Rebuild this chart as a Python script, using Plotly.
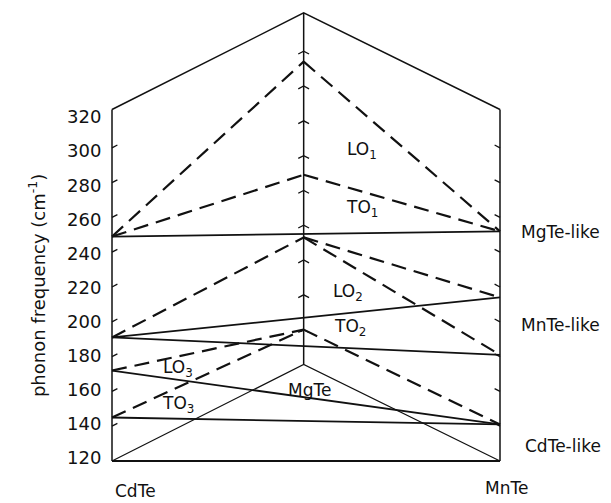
import plotly.graph_objects as go

# ---------------- data (phonon frequencies, cm^-1) ----------------
compounds = ["CdTe", "MgTe", "MnTe"]

# Cd1-xMnxTe face (solid lines): value at CdTe end, value at MnTe end
front_modes = ["MgTe-like", "MnTe-like LO", "MnTe-like TO", "CdTe-like LO", "CdTe-like TO"]
front_cdte = [249, 191, 191, 172, 145]
front_mnte = [252, 214, 181, 141, 141]

# Cd1-xMgxTe face (dashed): CdTe end -> MgTe end
left_modes = ["LO1", "TO1", "LO2", "LO3", "TO3"]
left_cdte = [249, 249, 191, 172, 145]
left_mgte = [294, 229, 193, 140, 140]

# Mg1-xMnxTe face (dashed): MgTe end -> MnTe end
right_modes = ["LO1", "TO1", "LO2", "TO2", "TO3"]
right_mgte = [294, 229, 193, 193, 140]
right_mnte = [252, 252, 214, 181, 141]

y_ticks = [120, 140, 160, 180, 200, 220, 240, 260, 280, 300, 320]
edge_ticks = [140, 160, 180, 200, 220, 240, 260, 280, 300]

# ---------------- prism geometry (layout constants) ----------------
X_CD, X_MG, X_MN = 0.0, 0.494, 1.0   # horizontal placement of the three binaries
DEPTH = 55.5                         # perspective lift of the MgTe (back) edge, in cm^-1
F_MIN, F_MAX = 120, 322

PX_X = 388.0   # px per unit composition
PX_Y = 1.74    # px per cm^-1
OFF = 8        # page body margin of the html page

BLACK = "#111111"
FONT = "DejaVu Sans"

W, H = 611, 503
ML = 112 - OFF - 4
PLOT_W = 388 + 8
MR = W - ML - PLOT_W
X_RANGE = [X_CD - 4 / PX_X, X_MN + 4 / PX_X]

fig = go.Figure()


def seg(xs, ys, width=1.5, dash="solid"):
    fig.add_trace(go.Scatter(x=xs, y=ys, mode="lines",
                             line=dict(color=BLACK, width=width, dash=dash),
                             hoverinfo="skip", showlegend=False))


def xpaper(x):
    return (x - X_RANGE[0]) / (X_RANGE[1] - X_RANGE[0])


# prism outline
seg([X_CD, X_CD], [F_MIN, F_MAX])
seg([X_MN, X_MN], [F_MIN, F_MAX])
seg([X_MG, X_MG], [F_MIN + DEPTH, F_MAX + DEPTH])
seg([X_CD, X_MG, X_MN], [F_MAX, F_MAX + DEPTH, F_MAX])
seg([X_CD, X_MN], [F_MIN, F_MIN], width=1.8)
seg([X_CD, X_MG, X_MN], [F_MIN, F_MIN + DEPTH, F_MIN], width=1.2)

# small tick marks on the three edges
tx, ty = [], []
dx = 5.4 / PX_X
dv = 2.8 / PX_Y
for v in edge_ticks:
    tx += [X_CD, X_CD + dx, None]
    ty += [v, v + dv, None]
    tx += [X_MN, X_MN - dx, None]
    ty += [v, v + dv, None]
    vm = v + DEPTH
    tx += [X_MG - dx, X_MG, X_MG + dx, None]
    ty += [vm - dv, vm, vm - dv, None]
fig.add_trace(go.Scatter(x=tx, y=ty, mode="lines",
                         line=dict(color=BLACK, width=1.3),
                         hoverinfo="skip", showlegend=False))

# solid lines: Cd1-xMnxTe
for a, b in zip(front_cdte, front_mnte):
    seg([X_CD, X_MN], [a, b], width=1.8)

# dashed lines: Cd1-xMgxTe and Mg1-xMnxTe
DASH = "15px,8px"
for a, b in zip(left_cdte, left_mgte):
    seg([X_CD, X_MG], [a, b + DEPTH], width=2.2, dash=DASH)
for a, b in zip(right_mgte, right_mnte):
    seg([X_MG, X_MN], [a + DEPTH, b], width=2.2, dash=DASH)

# dummy trace for the tick-label axis
fig.add_trace(go.Scatter(x=[None], y=[None], yaxis="y2", showlegend=False,
                         hoverinfo="skip"))

# ---------------- text labels ----------------
labels = [
    ("LO<sub>1</sub>", 0.644, 298.7, "center"),
    ("TO<sub>1</sub>", 0.644, 265.4, "center"),
    ("LO<sub>2</sub>", 0.608, 217.1, "center"),
    ("TO<sub>2</sub>", 0.613, 197.0, "center"),
    ("LO<sub>3</sub>", 0.170, 173.4, "center"),
    ("TO<sub>3</sub>", 0.170, 152.2, "center"),
    ("MgTe", 0.508, 160.8, "center"),
    ("MgTe-like", 1.157, 251.6, "center"),
    ("MnTe-like", 1.157, 198.2, "center"),
    ("CdTe-like", 1.162, 128.6, "center"),
    ("CdTe", 0.003, 103.0, "left"),
    ("MnTe", 1.018, 104.5, "center"),
]
for txt, x, y, anc in labels:
    fig.add_annotation(x=xpaper(x), y=y, xref="paper", yref="y", text=txt,
                       showarrow=False, xanchor=anc, yanchor="middle",
                       font=dict(family=FONT, size=17, color=BLACK))

fig.add_annotation(x=xpaper(-0.193), y=220.6, xref="paper", yref="y",
                   text="phonon frequency (cm<sup>-1</sup>)", textangle=-90,
                   showarrow=False, xanchor="center", yanchor="middle",
                   font=dict(family=FONT, size=18, color=BLACK))

# ---------------- layout ----------------
# screen y (px) of 120 cm^-1 on the front edge is 461; the page is offset by OFF
Y0 = 461 - OFF
Y0_LAB = 458 - OFF
fig.update_layout(
    width=W, height=H,
    margin=dict(l=ML, r=MR, t=0, b=0, pad=0),
    plot_bgcolor="white", paper_bgcolor="white",
    showlegend=False,
    xaxis=dict(range=X_RANGE, visible=False, fixedrange=True),
    yaxis=dict(range=[120 - (H - Y0) / PX_Y, 120 + Y0 / PX_Y],
               visible=False, fixedrange=True),
    yaxis2=dict(overlaying="y", side="left", anchor="x",
                range=[120 - (H - Y0_LAB) / 1.705, 120 + Y0_LAB / 1.705],
                tickvals=y_ticks, ticktext=[str(t) for t in y_ticks],
                ticks="outside", ticklen=2, tickcolor="rgba(0,0,0,0)",
                showgrid=False, zeroline=False, showline=False,
                tickfont=dict(family=FONT, size=18, color=BLACK),
                fixedrange=True),
)

fig.write_html("out.html")
